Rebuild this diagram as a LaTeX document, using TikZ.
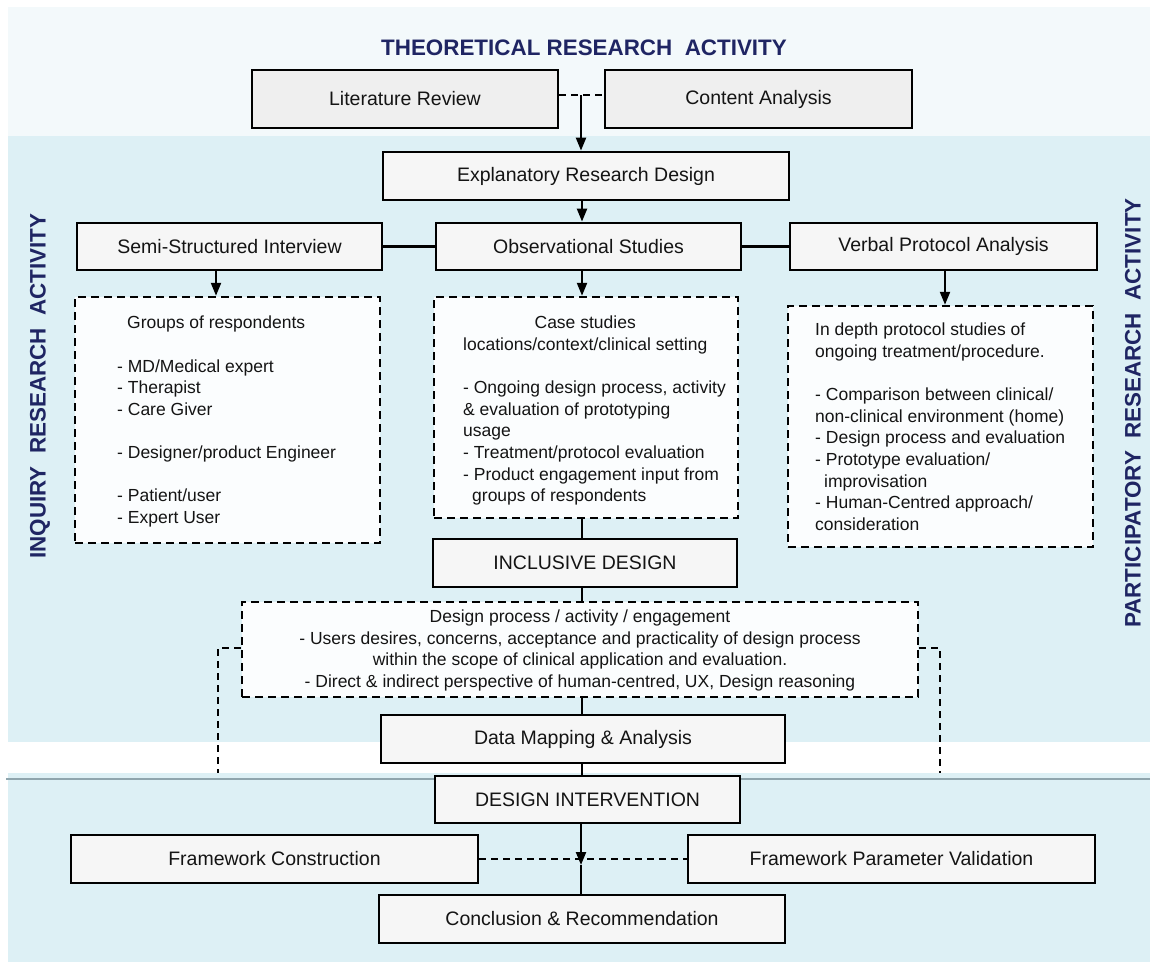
\documentclass[tikz,border=0pt]{standalone}
\usepackage{fontspec}
\setmainfont{Liberation Sans}
\usetikzlibrary{arrows.meta}
\definecolor{navy}{HTML}{1F2563}
\definecolor{bgblue}{HTML}{DDF0F5}
\definecolor{bgpale}{HTML}{F3F9FB}
\definecolor{boxfill}{HTML}{F6F6F6}
\definecolor{topfill}{HTML}{EFEFEF}
\definecolor{dfill}{HTML}{FBFDFE}
\definecolor{sepline}{HTML}{8FA5AD}
\definecolor{ink}{HTML}{141414}
\begin{document}
\begin{tikzpicture}[x=1pt,y=-1pt,
  box/.style={draw=black, line width=2.8pt, fill=boxfill, inner sep=0pt,
    font=\fontsize{19.5}{23}\selectfont, text=ink},
  dbox/.style={draw=black, line width=2.5pt, dash pattern=on 8pt off 5pt,
    fill=dfill, inner sep=0pt},
  body/.style={inner sep=0pt, font=\fontsize{17.5}{21.6}\selectfont,
    align=left, text=ink},
  conn/.style={line width=2.2pt, draw=black},
  arr/.style={conn, -{Triangle[length=13pt,width=10pt]}},
  dconn/.style={line width=2.4pt, dash pattern=on 7pt off 5pt},
  vtitle/.style={font=\bfseries\fontsize{22.4}{26}\selectfont, text=navy}
]
\useasboundingbox (0,0) rectangle (1150,964);
% background bands
\fill[white] (0,0) rectangle (1150,964);
\fill[bgpale] (8,7) rectangle (1150,136);
\fill[bgblue] (8,136) rectangle (1150,742);
\fill[bgblue] (8,773) rectangle (1150,962);
\draw[sepline, line width=2pt] (6,779) -- (1150,779);

% titles
\node[vtitle] (ttop) at (584,48) {THEORETICAL RESEARCH \ ACTIVITY};
\node[vtitle, rotate=90] (tleft) at (40,386) {INQUIRY \ RESEARCH \ ACTIVITY};
\node[vtitle, rotate=90] (tright) at (1133,413) {PARTICIPATORY \ RESEARCH \ ACTIVITY};

% boxes
\node[box, fill=topfill, minimum width=306pt, minimum height=58pt] (lit) at (405,99) {Literature Review};
\node[box, fill=topfill, minimum width=307pt, minimum height=58pt] (con) at (758.5,99) {Content Analysis};
\node[box, minimum width=406pt, minimum height=48pt] (exp) at (586,176) {Explanatory Research Design};
\node[box, minimum width=305pt, minimum height=47pt] (semi) at (229.5,246.5) {Semi-Structured Interview};
\node[box, minimum width=305pt, minimum height=47pt] (obs) at (588.5,246.5) {Observational Studies};
\node[box, minimum width=307pt, minimum height=47pt] (verbal) at (943.5,246.5) {Verbal Protocol Analysis};

\node[dbox, minimum width=305pt, minimum height=246pt] (grp) at (227.5,420) {};
\node[dbox, minimum width=304pt, minimum height=221pt] (case) at (586,407.5) {};
\node[dbox, minimum width=305pt, minimum height=241pt] (depth) at (940.5,426.5) {};

\node[body, anchor=north west] (grpT) at (117,316) {%
\hspace*{10pt}Groups of respondents\\[21.6pt]
- MD/Medical expert\\
- Therapist\\
- Care Giver\\[21.6pt]
- Designer/product Engineer\\[21.6pt]
- Patient/user\\
- Expert User};

\node[body, anchor=north west] (caseT) at (463,316) {%
\makebox[244pt]{Case studies}\\
locations/context/clinical setting\\[21.6pt]
- Ongoing design process, activity\\
\& evaluation of prototyping\\
usage\\
- Treatment/protocol evaluation\\
- Product engagement input from\\
\hspace*{9pt}groups of respondents};

\node[body, anchor=north west] (depthT) at (815,323) {%
In depth protocol studies of\\
ongoing treatment/procedure.\\[21.6pt]
- Comparison between clinical/\\
non-clinical environment (home)\\
- Design process and evaluation\\
- Prototype evaluation/\\
\hspace*{9pt}improvisation\\
- Human-Centred approach/\\
consideration};

\node[box, minimum width=304pt, minimum height=48pt] (incl) at (585,563) {INCLUSIVE DESIGN};
\node[dbox, minimum width=676pt, minimum height=95pt] (design) at (580,649.5) {};
\node[body, align=center] (designT) at (580,650.5) {%
Design process / activity / engagement\\
- Users desires, concerns, acceptance and practicality of design process\\
within the scope of clinical application and evaluation.\\
- Direct \& indirect perspective of human-centred, UX, Design reasoning};
\node[box, minimum width=404pt, minimum height=48pt] (dmap) at (583,739) {Data Mapping \& Analysis};
\node[box, minimum width=305pt, minimum height=47pt] (di) at (587.5,799.5) {DESIGN INTERVENTION};
\node[box, minimum width=407pt, minimum height=48pt] (fc) at (274.5,859) {Framework Construction};
\node[box, minimum width=407pt, minimum height=48pt] (fpv) at (891.5,859) {Framework Parameter Validation};
\node[box, minimum width=406pt, minimum height=48pt] (conc) at (582,919) {Conclusion \& Recommendation};

% helper coordinates
\coordinate (j1) at (581,95);
\coordinate (x582) at (582,0);
\coordinate (x216) at (216,0);
\coordinate (x945) at (945,0);
\coordinate (tip) at (581,865);
\coordinate (sl0) at (218,648);
\coordinate (sl) at (218,773);
\coordinate (sr0) at (940,648);
\coordinate (sr) at (940,773);

% connectors
\draw[dconn] (lit.east |- j1) -- (con.west |- j1);
\draw[arr] (j1) -- (j1 |- exp.north);
\draw[arr] (exp.south -| x582) -- (obs.north -| x582);
\draw[conn] (semi.east) -- (obs.west);
\draw[conn] (obs.east) -- (verbal.west);
\draw[arr] (semi.south -| x216) -- (grp.north -| x216);
\draw[arr] (obs.south -| x582) -- (case.north -| x582);
\draw[arr] (verbal.south -| x945) -- (depth.north -| x945);
\draw[conn] (case.south -| x582) -- (incl.north -| x582);
\draw[conn] (incl.south -| x582) -- (design.north -| x582);
\draw[conn] (design.south -| x582) -- (dmap.north -| x582);
\draw[conn] (dmap.south -| x582) -- (di.north -| x582);
\draw[dconn] (fc.east) -- (fpv.west);
\draw[arr] (di.south -| tip) -- (tip);
\draw[conn] (tip) -- (conc.north -| tip);
\draw[dconn] (design.west |- sl0) -- (sl0) -- (sl);
\draw[dconn] (design.east |- sr0) -- (sr0) -- (sr);
\end{tikzpicture}
\end{document}
